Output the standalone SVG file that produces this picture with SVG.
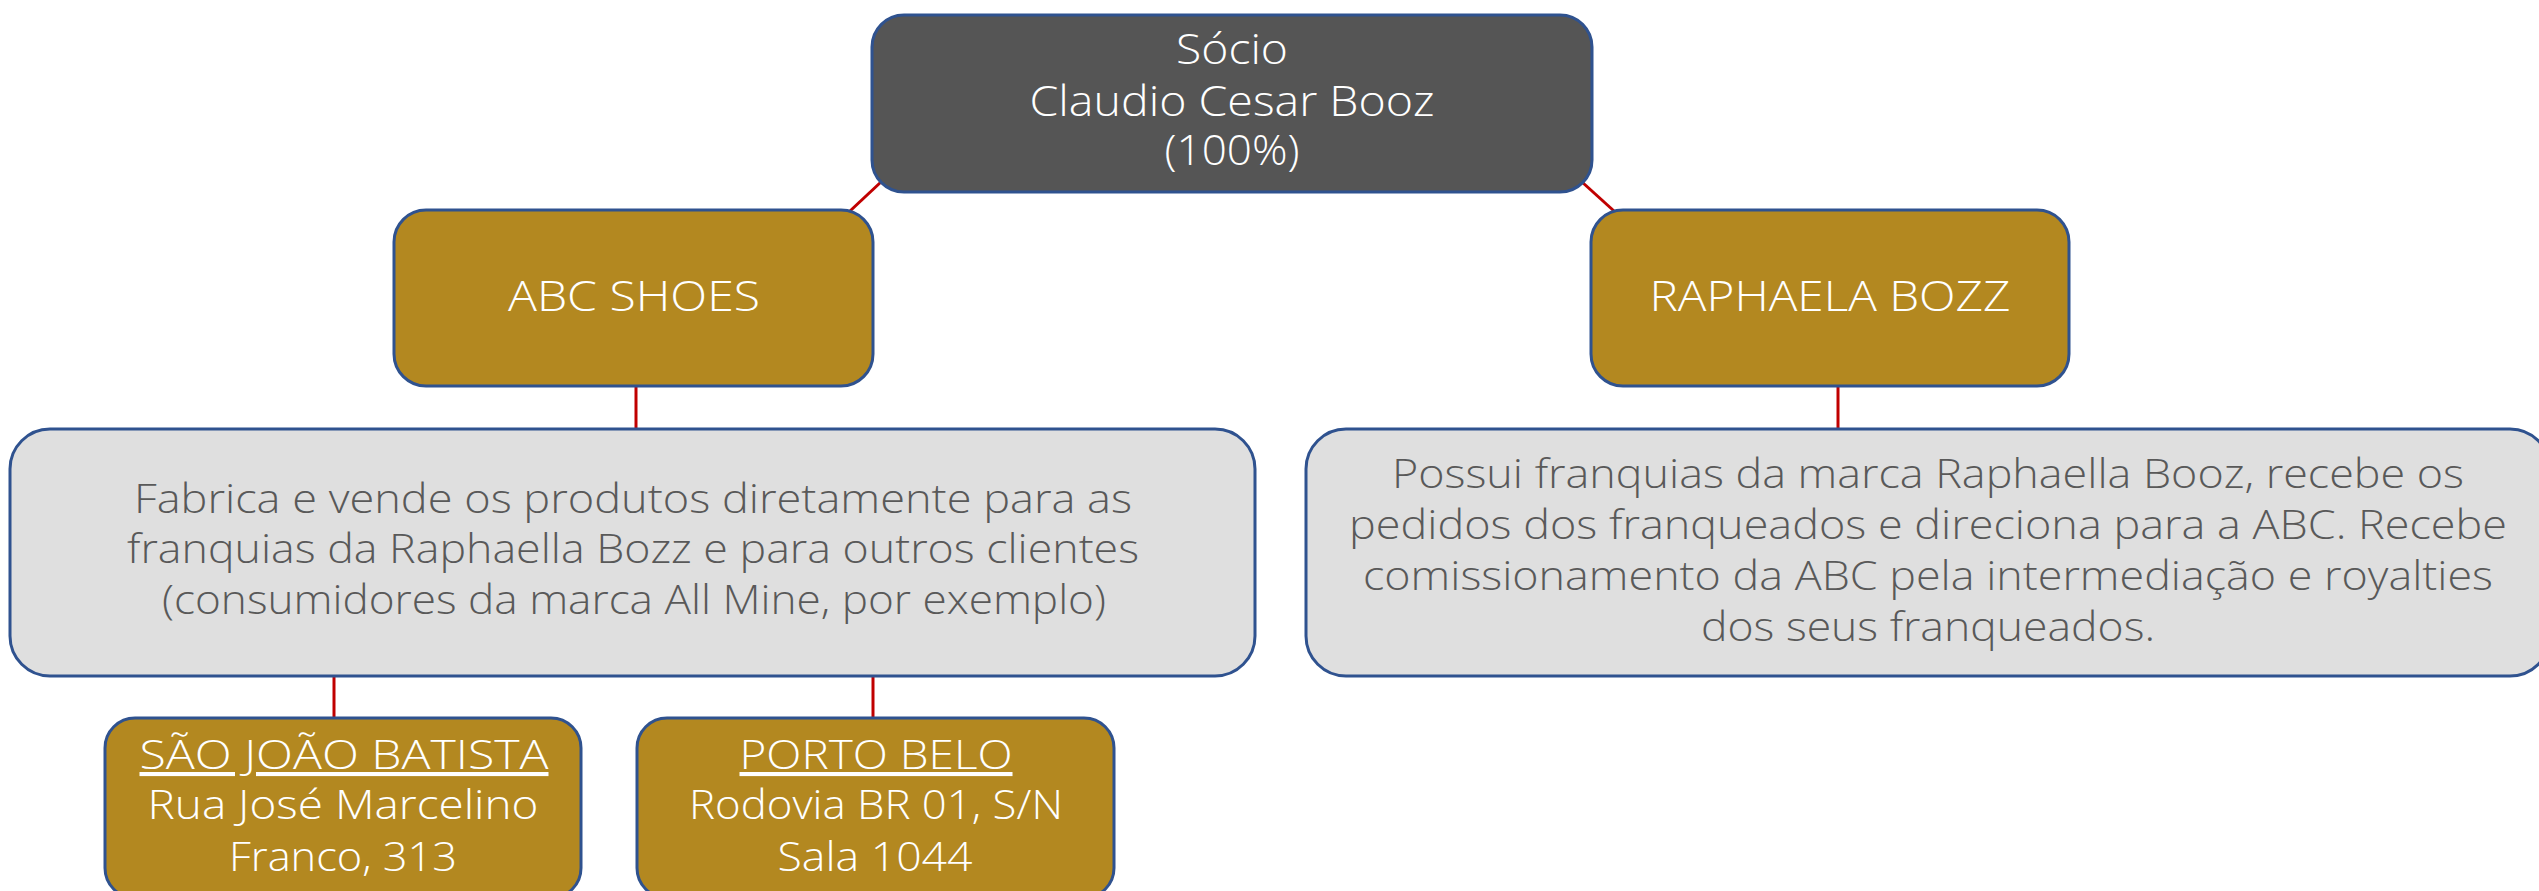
<svg xmlns="http://www.w3.org/2000/svg" width="2539" height="891" viewBox="0 0 2539 891">
<style>
.box{stroke:#2F528F;stroke-width:3}
.dark{fill:#555555}
.gold{fill:#B38820}
.light{fill:#DFDFDF}
.conn{stroke:#C00000;stroke-width:3;fill:none}
text{font-family:"Open Sans",Lato,"Liberation Sans",sans-serif;font-weight:300;text-anchor:middle}
.w{fill:#FFFFFF}
.g{fill:#595959}
</style>
<rect width="2539" height="891" fill="#FFFFFF"/>
<g id="connectors">
<line class="conn" x1="881" y1="182" x2="850" y2="211"/>
<line class="conn" x1="1582" y1="182" x2="1614" y2="211"/>
<line class="conn" x1="636" y1="386" x2="636" y2="430"/>
<line class="conn" x1="1838" y1="386" x2="1838" y2="430"/>
<line class="conn" x1="334" y1="676" x2="334" y2="719"/>
<line class="conn" x1="873" y1="676" x2="873" y2="719"/>
</g>
<g id="socio">
<rect class="box dark" x="872" y="15" width="720" height="177" rx="32"/>
<text class="w" font-size="43" x="1232" y="64" textLength="112" lengthAdjust="spacingAndGlyphs">Sócio</text>
<text class="w" font-size="43" x="1232" y="116" textLength="405" lengthAdjust="spacingAndGlyphs">Claudio Cesar Booz</text>
<text class="w" font-size="43" x="1232" y="165" textLength="135" lengthAdjust="spacingAndGlyphs">(100%)</text>
</g>
<g id="abc">
<rect class="box gold" x="394" y="210" width="479" height="176" rx="32"/>
<text class="w" font-size="42" x="634" y="311" textLength="252" lengthAdjust="spacingAndGlyphs">ABC SHOES</text>
</g>
<g id="raphaela">
<rect class="box gold" x="1591" y="210" width="478" height="176" rx="32"/>
<text class="w" font-size="42" x="1830" y="311" textLength="361" lengthAdjust="spacingAndGlyphs">RAPHAELA BOZZ</text>
</g>
<g id="abc-desc">
<rect class="box light" x="10" y="429" width="1245" height="247" rx="40"/>
<text class="g" font-size="41" x="633" y="513" textLength="998" lengthAdjust="spacingAndGlyphs">Fabrica e vende os produtos diretamente para as</text>
<text class="g" font-size="41" x="633" y="563" textLength="1012" lengthAdjust="spacingAndGlyphs">franquias da Raphaella Bozz e para outros clientes</text>
<text class="g" font-size="41" x="634" y="614" textLength="944" lengthAdjust="spacingAndGlyphs">(consumidores da marca All Mine, por exemplo)</text>
</g>
<g id="raphaela-desc">
<rect class="box light" x="1306" y="429" width="1244" height="247" rx="40"/>
<text class="g" font-size="41" x="1928" y="488" textLength="1072" lengthAdjust="spacingAndGlyphs">Possui franquias da marca Raphaella Booz, recebe os</text>
<text class="g" font-size="41" x="1928" y="539" textLength="1158" lengthAdjust="spacingAndGlyphs">pedidos dos franqueados e direciona para a ABC. Recebe</text>
<text class="g" font-size="41" x="1928" y="590" textLength="1130" lengthAdjust="spacingAndGlyphs">comissionamento da ABC pela intermediação e royalties</text>
<text class="g" font-size="41" x="1928" y="641" textLength="454" lengthAdjust="spacingAndGlyphs">dos seus franqueados.</text>
</g>
<g id="sao-joao">
<rect class="box gold" x="105" y="718" width="476" height="180" rx="30"/>
<text class="w" font-size="41" x="344" y="769" text-decoration="underline" textLength="409" lengthAdjust="spacingAndGlyphs">SÃO JOÃO BATISTA</text>
<text class="w" font-size="41" x="343" y="819" textLength="391" lengthAdjust="spacingAndGlyphs">Rua José Marcelino</text>
<text class="w" font-size="41" x="343" y="871" textLength="228" lengthAdjust="spacingAndGlyphs">Franco, 313</text>
</g>
<g id="porto-belo">
<rect class="box gold" x="637" y="718" width="477" height="180" rx="30"/>
<text class="w" font-size="41" x="876" y="769" text-decoration="underline" textLength="273" lengthAdjust="spacingAndGlyphs">PORTO BELO</text>
<text class="w" font-size="41" x="876" y="819" textLength="374" lengthAdjust="spacingAndGlyphs">Rodovia BR 01, S/N</text>
<text class="w" font-size="41" x="875" y="871" textLength="195" lengthAdjust="spacingAndGlyphs">Sala 1044</text>
</g>
</svg>
